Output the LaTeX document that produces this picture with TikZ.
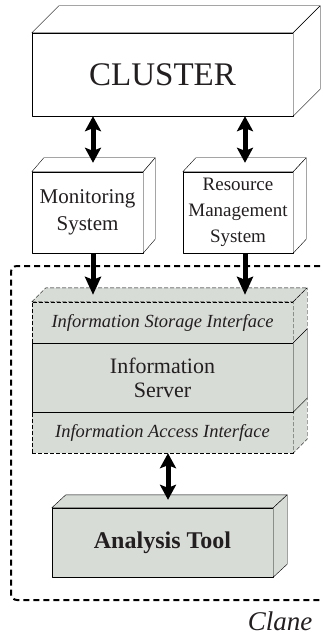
\documentclass[tikz,border=0pt]{standalone}
\usepackage{fontspec}
\setmainfont{Liberation Serif}
\usepackage{tikz}
\usetikzlibrary{arrows.meta,calc}
\definecolor{boxgray}{RGB}{216,220,215}
\definecolor{txt}{RGB}{35,31,32}

% top and side faces of a box drawn behind a node
\newcommand{\topface}[4]{\draw[#4] (#1.north west) -- ++(#2,-#3) -- ([shift={(#2,-#3)}]#1.north east) -- (#1.north east) -- cycle;}
\newcommand{\sideface}[4]{\draw[#4] (#1.north east) -- ++(#2,-#3) -- ([shift={(#2,-#3)}]#1.south east) -- (#1.south east) -- cycle;}

\begin{document}
\begin{tikzpicture}[x=1pt, y=-1pt, line join=round,
    box/.style={draw, fill=white, inner sep=0pt, align=center, text=txt},
    graybox/.style={box, fill=boxgray},
    face/.style={draw, fill=white},
    grayface/.style={draw, fill=boxgray},
    thin dash/.style={dash pattern=on 4pt off 2pt},
    dbl/.style={{Stealth[length=15pt,width=16pt,inset=3pt]}-{Stealth[length=15pt,width=16pt,inset=3pt]}, line width=5pt},
    sgl/.style={-{Stealth[length=18pt,width=16pt,inset=3pt]}, line width=5pt}]
  \useasboundingbox[fill=white] (0,0) rectangle (322,639);

  \node[box, minimum width=261pt, minimum height=83pt, font=\fontsize{33}{36}\selectfont] (cl) at (162.5,74.5) {CLUSTER};
  \topface{cl}{27}{27}{face} \sideface{cl}{27}{27}{face}

  \node[box, minimum width=111pt, minimum height=81pt, font=\fontsize{21}{27}\selectfont] (mon) at (87.5,212.5) {Monitoring\\System};
  \topface{mon}{12}{14}{face} \sideface{mon}{12}{14}{face}
  \node[box, minimum width=110pt, minimum height=81pt, font=\fontsize{19}{26}\selectfont] (rms) at (238,212.5) {Resource\\Management\\System};
  \topface{rms}{13}{14}{face} \sideface{rms}{13}{14}{face}

  % Clane
  \draw[line width=2pt, dash pattern=on 6pt off 4pt, rounded corners=6pt] (340,266) -- (11,266) -- (11,600) -- (340,600);
  \node[font=\itshape\fontsize{27}{30}\selectfont, text=txt, anchor=east] (clane) at (316,621) {Clane};

  \node[graybox, thin dash, minimum width=261pt, minimum height=41pt, font=\itshape\fontsize{18.5}{22}\selectfont] (sto) at (162.5,322.5) {Information Storage Interface};
  \topface{sto}{14}{14}{grayface, thin dash} \sideface{sto}{14}{14}{grayface, thin dash}
  \node[graybox, thin dash, minimum width=261pt, minimum height=41pt, font=\itshape\fontsize{18.5}{22}\selectfont] (acc) at (162.5,432.5) {Information Access Interface};
  \sideface{acc}{14}{14}{grayface, thin dash}
  \node[graybox, minimum width=261pt, minimum height=69pt, font=\fontsize{22}{24}\selectfont] (srv) at (162.5,377.5) {Information\\Server};
  \sideface{srv}{14}{14}{grayface}

  \node[graybox, minimum width=221pt, minimum height=69pt, font=\bfseries\fontsize{24}{28}\selectfont] (ana) at (162.5,542.5) {Analysis Tool};
  \topface{ana}{14}{13}{grayface} \sideface{ana}{14}{13}{grayface}

  \coordinate (c1) at (93,0);
  \coordinate (c2) at (245,0);
  \coordinate (c3) at (168,0);
  \draw[dbl] (cl.south -| c1) -- ($(mon.north -| c1)+(0,-9)$);
  \draw[dbl] (cl.south -| c2) -- ($(rms.north -| c2)+(0,-9)$);
  \draw[sgl] (mon.south -| c1) -- ($(sto.north -| c1)+(0,-7)$);
  \draw[sgl] (rms.south -| c2) -- ($(sto.north -| c2)+(0,-7)$);
  \draw[dbl] (acc.south -| c3) -- ($(ana.north -| c3)+(0,-8)$);
\end{tikzpicture}
\end{document}
